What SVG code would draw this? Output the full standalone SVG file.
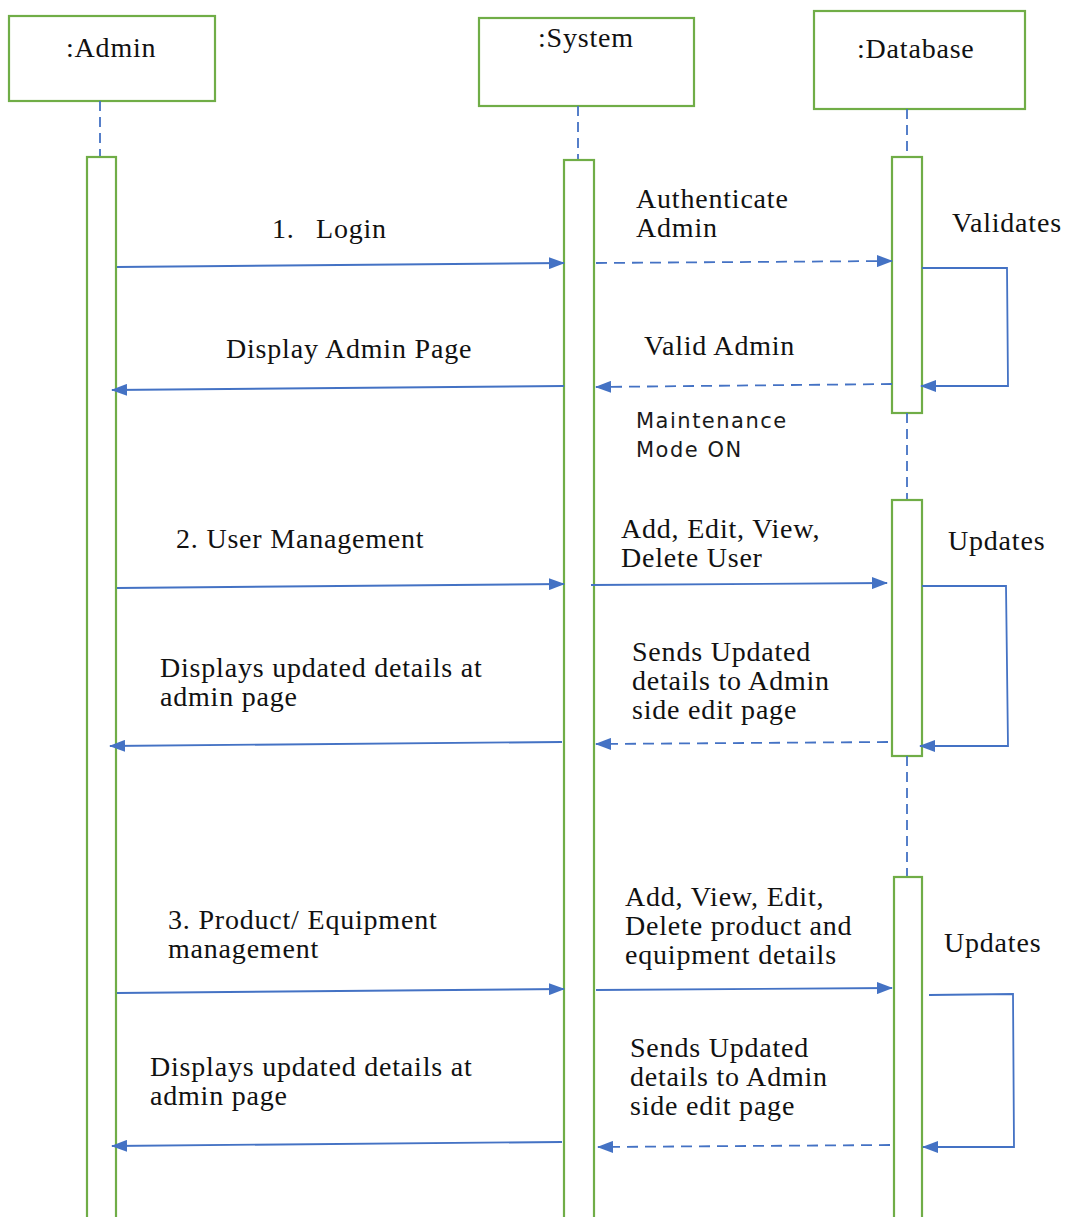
<svg xmlns="http://www.w3.org/2000/svg" width="1072" height="1217" viewBox="0 0 1072 1217">
  <style>
    .box { fill: #ffffff; stroke: #70AD47; stroke-width: 2.2; }
    .life { fill: none; stroke: #4472C4; stroke-width: 1.8; stroke-dasharray: 10 6; }
    .msg { fill: none; stroke: #4472C4; stroke-width: 1.8; }
    .ret { fill: none; stroke: #4472C4; stroke-width: 1.8; stroke-dasharray: 11 7; }
    .serif { font-family: "Liberation Serif", "Times New Roman", serif; font-size: 28px; letter-spacing: 0.8px; fill: #111111; }
    .sans { font-family: "DejaVu Sans", Verdana, sans-serif; font-size: 21px; letter-spacing: 1.5px; fill: #1a1a1a; }
  </style>
  <defs>
    <marker id="head" markerUnits="userSpaceOnUse" markerWidth="16" markerHeight="12" refX="15" refY="6" orient="auto">
      <path d="M0,0 L16,6 L0,12 Z" fill="#4472C4"/>
    </marker>
  </defs>

  <rect width="1072" height="1217" fill="#ffffff"/>

  <!-- participants -->
  <g id="admin">
    <rect class="box" x="9" y="16" width="206" height="85"/>
    <text class="serif" x="66" y="57">:Admin</text>
    <line class="life" x1="100" y1="101" x2="100" y2="157"/>
    <rect class="box" x="87" y="157" width="29" height="1070"/>
  </g>

  <g id="system">
    <rect class="box" x="479" y="18" width="215" height="88"/>
    <text class="serif" x="538" y="47">:System</text>
    <line class="life" x1="578" y1="106" x2="578" y2="160"/>
    <rect class="box" x="564" y="160" width="30" height="1070"/>
  </g>

  <g id="database">
    <rect class="box" x="814" y="11" width="211" height="98"/>
    <text class="serif" x="857" y="58">:Database</text>
    <line class="life" x1="907" y1="109" x2="907" y2="157"/>
    <rect class="box" x="892" y="157" width="30" height="256"/>
    <line class="life" x1="907" y1="413" x2="907" y2="500"/>
    <rect class="box" x="892" y="500" width="30" height="256"/>
    <line class="life" x1="907" y1="756" x2="907" y2="877"/>
    <rect class="box" x="894" y="877" width="28" height="350"/>
  </g>

  <!-- messages -->
  <g id="connectors">
    <!-- login phase -->
    <line class="msg" x1="117" y1="267" x2="564" y2="263" marker-end="url(#head)"/>
    <line class="ret" x1="596" y1="263" x2="892" y2="261" marker-end="url(#head)"/>
    <polyline class="msg" points="922,268 1007,268 1008,386 921,386" marker-end="url(#head)"/>
    <line class="ret" x1="892" y1="384" x2="596" y2="387" marker-end="url(#head)"/>
    <line class="msg" x1="564" y1="386" x2="112" y2="390" marker-end="url(#head)"/>

    <!-- user management -->
    <line class="msg" x1="117" y1="588" x2="564" y2="584" marker-end="url(#head)"/>
    <line class="msg" x1="591" y1="585" x2="887" y2="583" marker-end="url(#head)"/>
    <polyline class="msg" points="922,586 1006,586 1008,746 920,746" marker-end="url(#head)"/>
    <line class="ret" x1="888" y1="742" x2="596" y2="744" marker-end="url(#head)"/>
    <line class="msg" x1="562" y1="742" x2="110" y2="746" marker-end="url(#head)"/>

    <!-- product / equipment management -->
    <line class="msg" x1="117" y1="993" x2="564" y2="989" marker-end="url(#head)"/>
    <line class="msg" x1="596" y1="990" x2="892" y2="988" marker-end="url(#head)"/>
    <polyline class="msg" points="929,995 1013,994 1014,1147 923,1147" marker-end="url(#head)"/>
    <line class="ret" x1="890" y1="1145" x2="598" y2="1147" marker-end="url(#head)"/>
    <line class="msg" x1="562" y1="1142" x2="112" y2="1146" marker-end="url(#head)"/>
  </g>

  <!-- message labels -->
  <g id="labels">
    <text class="serif" x="272" y="238">1.<tspan x="316">Login</tspan></text>
    <text class="serif" x="636" y="208">Authenticate</text>
    <text class="serif" x="636" y="237">Admin</text>
    <text class="serif" x="952" y="232">Validates</text>
    <text class="serif" x="644" y="355">Valid Admin</text>
    <text class="serif" x="226" y="358">Display Admin Page</text>
    <text class="sans" x="636" y="428">Maintenance</text>
    <text class="sans" x="636" y="457">Mode ON</text>

    <text class="serif" x="176" y="548">2. User Management</text>
    <text class="serif" x="621" y="538">Add, Edit, View,</text>
    <text class="serif" x="621" y="567">Delete User</text>
    <text class="serif" x="948" y="550">Updates</text>
    <text class="serif" x="632" y="661">Sends Updated</text>
    <text class="serif" x="632" y="690">details to Admin</text>
    <text class="serif" x="632" y="719">side edit page</text>
    <text class="serif" x="160" y="677">Displays updated details at</text>
    <text class="serif" x="160" y="706">admin page</text>

    <text class="serif" x="168" y="929">3. Product/ Equipment</text>
    <text class="serif" x="168" y="958">management</text>
    <text class="serif" x="625" y="906">Add, View, Edit,</text>
    <text class="serif" x="625" y="935">Delete product and</text>
    <text class="serif" x="625" y="964">equipment details</text>
    <text class="serif" x="944" y="952">Updates</text>
    <text class="serif" x="630" y="1057">Sends Updated</text>
    <text class="serif" x="630" y="1086">details to Admin</text>
    <text class="serif" x="630" y="1115">side edit page</text>
    <text class="serif" x="150" y="1076">Displays updated details at</text>
    <text class="serif" x="150" y="1105">admin page</text>
  </g>
</svg>
